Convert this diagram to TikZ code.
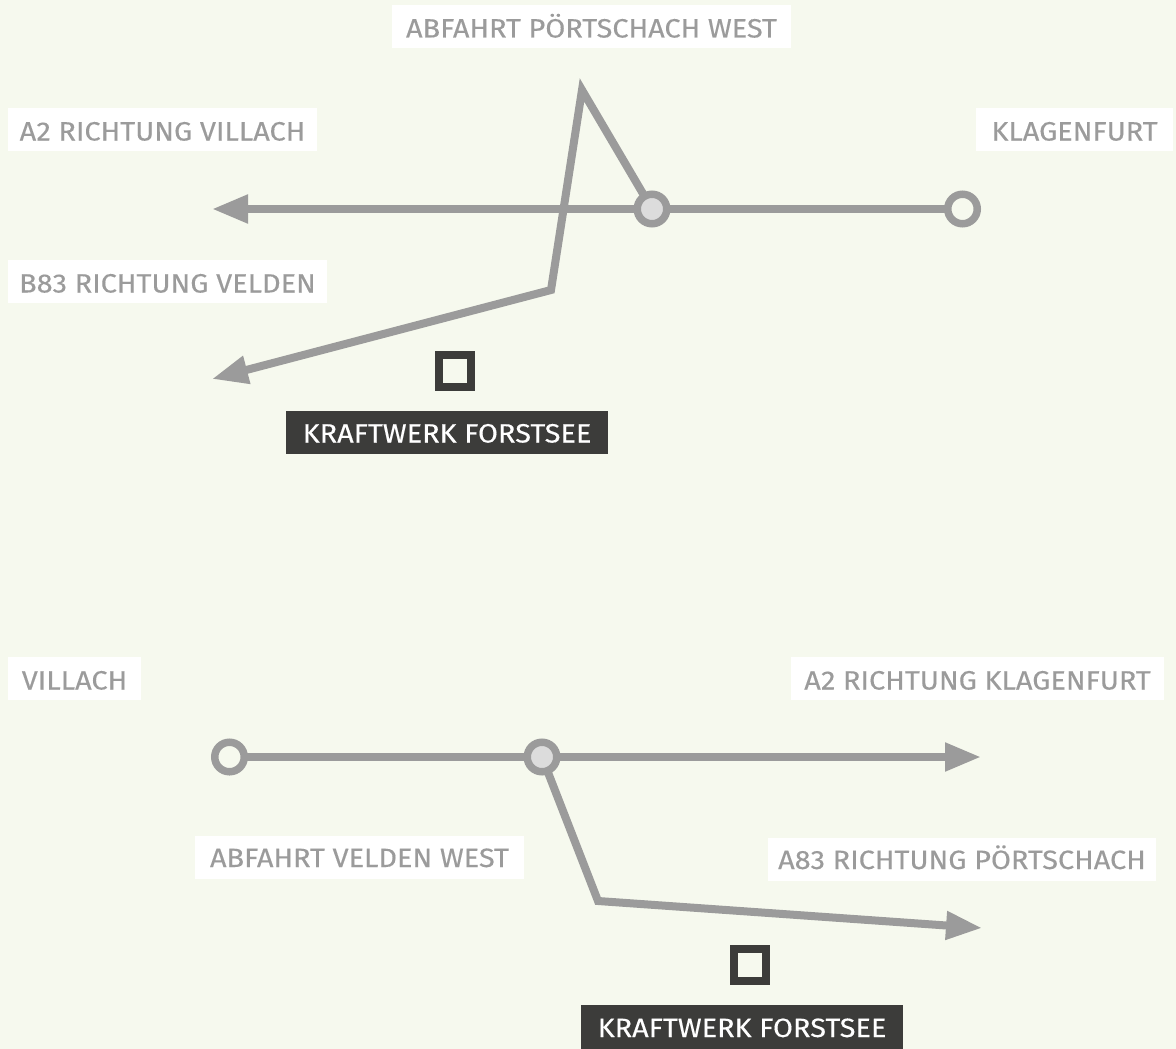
\documentclass[tikz,border=0pt]{standalone}
\usepackage{fontspec}
\setmainfont[FakeStretch=1.09, FakeBold=0.25]{Fira Sans}
\usetikzlibrary{arrows.meta}
\definecolor{bgcol}{HTML}{F6F9EE}
\definecolor{roadcol}{HTML}{9B9B9B}
\definecolor{darkcol}{HTML}{3C3C3A}
\definecolor{junccol}{HTML}{DCDCDC}
\newcommand{\lblfont}{\fontsize{26.5}{26.5}\selectfont}
\tikzset{
    road/.style={draw=roadcol, line width=8pt, miter limit=10},
    roadarrow/.style={road, -{Triangle[length=36pt, width=27pt]}},
    lbl/.style={fill=white, text=roadcol, inner sep=0pt, minimum height=43pt, text height=22pt, text depth=0pt, font=\lblfont},
    lbllow/.style={lbl, text height=19pt},
    plant/.style={fill=darkcol, text=white, inner sep=0pt, minimum width=322pt, minimum height=43pt, text height=20pt, text depth=0pt, font=\lblfont},
    junction/.style={circle, draw=roadcol, line width=7.5pt, fill=junccol, inner sep=0pt, outer sep=0pt, minimum size=29.5pt},
    endpoint/.style={junction, fill=bgcol},
    plantmark/.style={draw=darkcol, fill=bgcol, line width=8pt, inner sep=0pt, minimum size=32pt}
}
\begin{document}
\begin{tikzpicture}[x=1pt, y=-1pt]
    \useasboundingbox[fill=bgcol] (0,0) rectangle (1176,1049);
    % oberer Plan
    \node[junction] (abfahrtA) at (652,209) {};
    \node[endpoint] (klagenfurt) at (962.5,209) {};
    \coordinate (endA2) at (212,209);
    \coordinate (spitze) at (582,90);
    \coordinate (knick) at (551,290);
    \coordinate (endB83) at (212,379);
    \draw[roadarrow] (abfahrtA) -- (endA2);
    \draw[road] (abfahrtA) -- (klagenfurt);
    \draw[roadarrow] (abfahrtA) -- (spitze) -- (knick) -- (endB83);
    \node[plantmark] (werkA) at (455,370.5) {};
    \node[lbl, minimum width=399pt] (lblabfahrtA) at (591.5,26.5) {ABFAHRT PÖRTSCHACH WEST};
    \node[lbl, minimum width=309pt] (lblvillach) at (162.5,129.5) {A2 RICHTUNG VILLACH};
    \node[lbl, minimum width=197pt] (lblklagenfurt) at (1074.5,129.5) {KLAGENFURT};
    \node[lbl, minimum width=319pt] (lblvelden) at (167.5,281.5) {B83 RICHTUNG VELDEN};
    \node[plant] (lblwerkA) at (447,432.5) {KRAFTWERK FORSTSEE};
    % unterer Plan
    \node[endpoint] (villach) at (229.5,757) {};
    \node[junction] (abfahrtB) at (542,757) {};
    \coordinate (endA2b) at (981,757);
    \coordinate (knickB) at (598,901);
    \coordinate (endA83) at (982,928);
    \draw[road] (villach) -- (abfahrtB);
    \draw[roadarrow] (abfahrtB) -- (endA2b);
    \draw[roadarrow] (abfahrtB) -- (knickB) -- (endA83);
    \node[plantmark] (werkB) at (750,964.5) {};
    \node[lbl, minimum width=133pt] (lblvillachB) at (74.5,678.5) {VILLACH};
    \node[lbl, minimum width=373pt] (lblklagenfurtB) at (977.5,678.5) {A2 RICHTUNG KLAGENFURT};
    \node[lbllow, minimum width=329pt] (lblabfahrtB) at (359.5,857.5) {ABFAHRT VELDEN WEST};
    \node[lbllow, minimum width=388pt] (lblpoertschach) at (962,859.5) {A83 RICHTUNG PÖRTSCHACH};
    \node[plant, minimum height=44pt] (lblwerkB) at (742,1027) {KRAFTWERK FORSTSEE};
\end{tikzpicture}
\end{document}
